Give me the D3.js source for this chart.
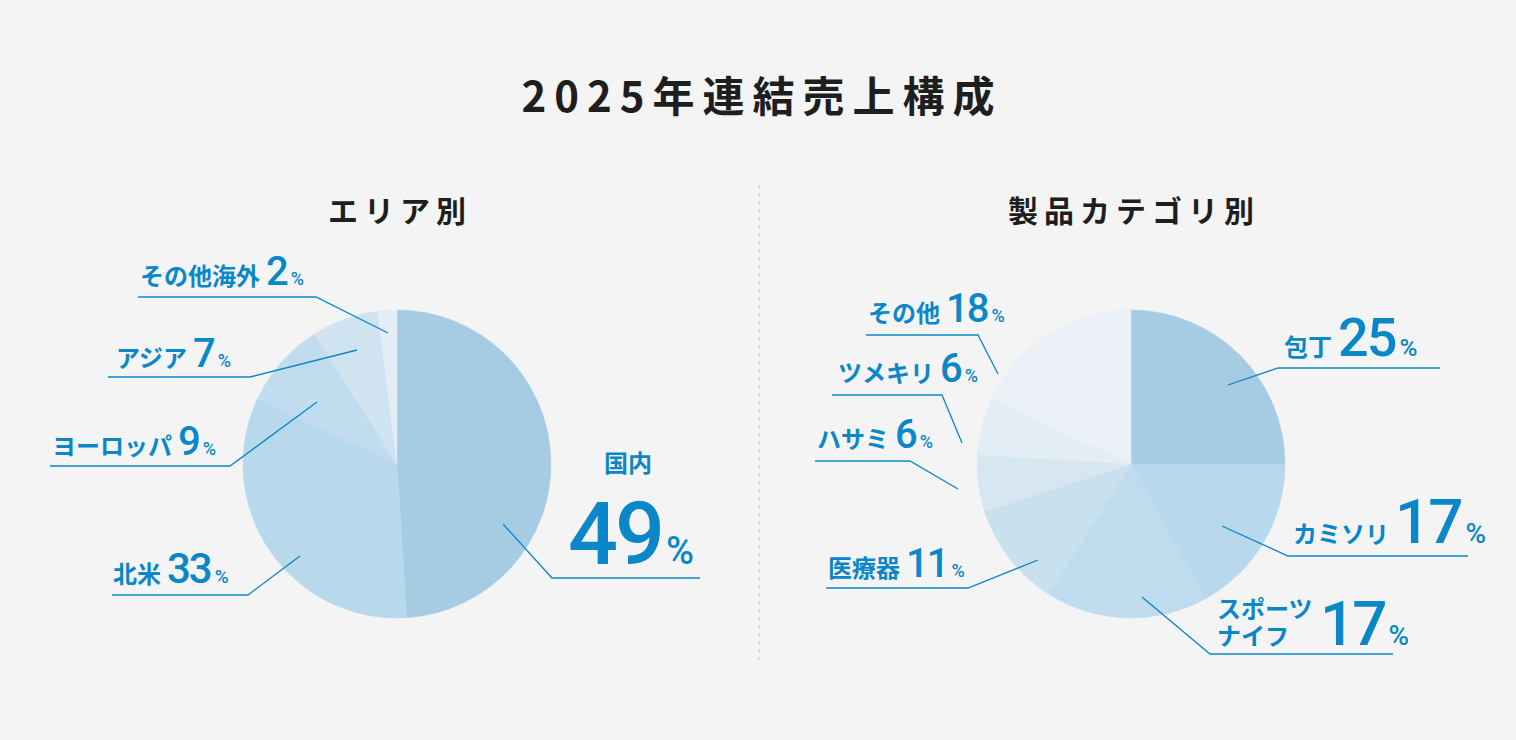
<!DOCTYPE html>
<html><head><meta charset="utf-8">
<script src="https://cdn.jsdelivr.net/npm/d3@7"></script>
<style>
body{margin:0;background:#f4f4f4;}
text{font-family:"Noto Sans CJK JP","Noto Sans",sans-serif;font-weight:700;}
.num{font-family:Roboto,"Noto Sans",sans-serif;font-weight:500;}
</style></head>
<body><svg id="chart" width="1516" height="740"></svg>
<script>
// area breakdown
var areaNames = ["国内", "北米", "ヨーロッパ", "アジア", "その他海外"];
var areaValues = [49, 33, 9, 7, 2];
var areaColors = ["#a6cce4", "#b8d8eb", "#c1dcee", "#cfe3f0", "#e2edf5"];
// product breakdown
var prodNames = ["包丁", "カミソリ", "スポーツナイフ", "医療器", "ハサミ", "ツメキリ", "その他"];
var prodValues = [25, 17, 17, 11, 6, 6, 18];
var prodColors = ["#a6cce4", "#b8d8eb", "#bfdcee", "#c9e0ef", "#d7e7f1", "#e2edf5", "#eaf0f5"];

// label layout: [inner x,y], [elbow x,y], end x, text x, baseline, name size, num size
var areaLayout = [
  {p:[503,524], e:[552,578], end:700, tx:628, ty:472, ns:24, fs:88, big:true},
  {p:[300,556], e:[248,595], end:112, tx:113, ty:583, ns:24, fs:42},
  {p:[317,402], e:[230,466], end:50,  tx:52,  ty:455, ns:24, fs:40},
  {p:[357,350], e:[250,377], end:108, tx:116, ty:367, ns:24, fs:40},
  {p:[388,333], e:[316,297], end:138, tx:140, ty:285, ns:24, fs:40}
];
var prodLayout = [
  {p:[1228,385], e:[1278,368], end:1440, tx:1284, ty:356, ns:24, fs:54},
  {p:[1222,526], e:[1288,556], end:1468, tx:1293, ty:543, ns:24, fs:62},
  {p:[1142,597], e:[1210,654], end:1393, tx:1217, ty:645, ns:24, fs:62, two:["スポーツ","ナイフ"]},
  {p:[1038,560], e:[968,588], end:826, tx:828, ty:577, ns:24, fs:40},
  {p:[958,489], e:[910,461], end:815, tx:817, ty:448, ns:24, fs:40},
  {p:[962,443], e:[942,395], end:832, tx:838, ty:382, ns:24, fs:40},
  {p:[998,374], e:[978,335], end:866, tx:868, ty:322, ns:24, fs:40}
];

var svg = d3.select("#chart");
var blue = "#0a87c9";

svg.append("text").attr("x", 762).attr("y", 112).attr("text-anchor", "middle")
  .attr("font-size", 42).attr("letter-spacing", 8).attr("fill", "#1e1e1e").text("2025年連結売上構成");

svg.append("line").attr("x1", 759).attr("x2", 759).attr("y1", 185).attr("y2", 660)
  .attr("stroke", "#a9cbe6").attr("stroke-dasharray", "4,4");

function drawPie(cx, title, names, values, colors, layout) {
  svg.append("text").attr("x", cx + 3).attr("y", 222).attr("text-anchor", "middle")
    .attr("font-size", 30).attr("letter-spacing", 6).attr("fill", "#1e1e1e").text(title);

  var pie = d3.pie().sort(null)(values);
  var arc = d3.arc().innerRadius(0).outerRadius(154);
  var g = svg.append("g").attr("transform", "translate(" + cx + ",464)");
  g.selectAll("path").data(pie).enter().append("path")
    .attr("d", arc)
    .attr("fill", (d, i) => colors[i])
    .attr("stroke", (d, i) => colors[i]).attr("stroke-width", 0.5);

  layout.forEach((L, i) => {
    svg.append("polyline")
      .attr("points", [L.p, L.e, [L.end, L.e[1]]].map(p => p.join(",")).join(" "))
      .attr("fill", "none").attr("stroke", blue).attr("stroke-width", 1.3);

    if (L.big) {
      svg.append("text").attr("x", L.tx).attr("y", L.ty).attr("text-anchor", "middle")
        .attr("font-size", L.ns).attr("fill", blue).text(names[i]);
      var t = svg.append("text").attr("x", 568).attr("y", 564).attr("fill", blue);
      t.append("tspan").attr("class", "num").attr("font-size", L.fs).attr("letter-spacing", -3).text(values[i]);
      t.append("tspan").attr("class", "num").attr("dx", 4).attr("font-size", 38).attr("font-weight", 400).text("%");
      return;
    }
    var t = svg.append("text").attr("x", L.tx).attr("y", L.ty).attr("fill", blue);
    if (L.two) {
      svg.append("text").attr("x", L.tx).attr("y", L.ty - 27).attr("font-size", L.ns)
        .attr("fill", blue).text(L.two[0]);
      t.append("tspan").attr("font-size", L.ns).text(L.two[1]);
      t.append("tspan").attr("x", L.tx + 103).attr("class", "num").attr("font-size", L.fs).attr("letter-spacing", -3).text(values[i]);
    } else {
      t.append("tspan").attr("font-size", L.ns).text(names[i]);
      t.append("tspan").attr("class", "num").attr("dx", 6).attr("font-size", L.fs).attr("letter-spacing", -2).text(values[i]);
    }
    t.append("tspan").attr("class", "num").attr("dx", 4).attr("font-size", L.fs * 0.45).attr("font-weight", 400).text("%");
  });
}

drawPie(397, "エリア別", areaNames, areaValues, areaColors, areaLayout);
drawPie(1131, "製品カテゴリ別", prodNames, prodValues, prodColors, prodLayout);
</script>
</body></html>
